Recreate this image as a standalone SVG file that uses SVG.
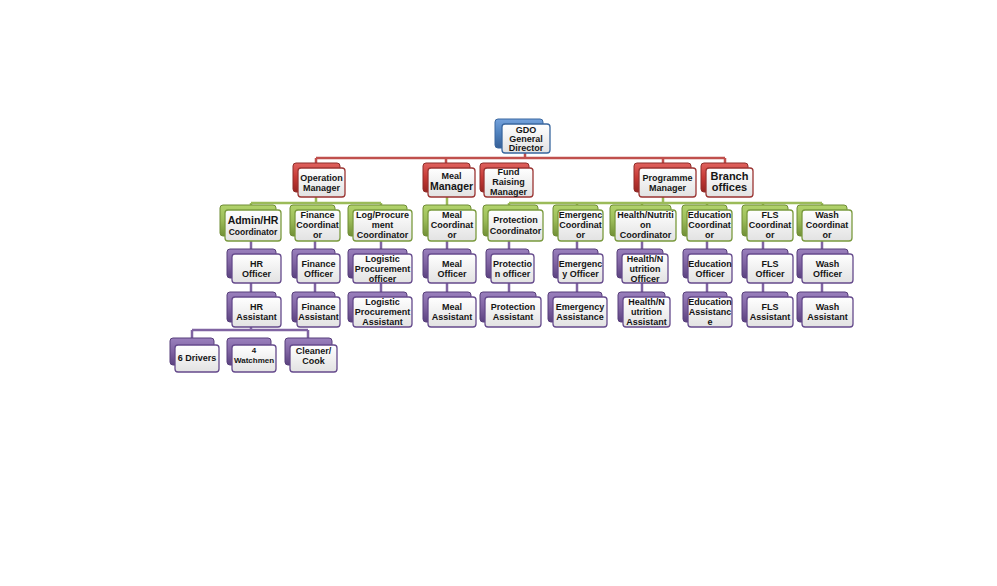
<svg xmlns="http://www.w3.org/2000/svg" width="997" height="586" viewBox="0 0 997 586">
<defs>
<linearGradient id="wf" x1="0" y1="0" x2="0" y2="1"><stop offset="0" stop-color="#ffffff"/><stop offset="1" stop-color="#e2e2e2"/></linearGradient>
<linearGradient id="gb" x1="0" y1="0" x2="0" y2="1"><stop offset="0" stop-color="#74a2dc"/><stop offset="0.5" stop-color="#4f81bd"/><stop offset="1" stop-color="#365f96"/></linearGradient>
<linearGradient id="gr" x1="0" y1="0" x2="0" y2="1"><stop offset="0" stop-color="#e0625e"/><stop offset="0.5" stop-color="#c63a36"/><stop offset="1" stop-color="#972522"/></linearGradient>
<linearGradient id="gg" x1="0" y1="0" x2="0" y2="1"><stop offset="0" stop-color="#b2d36c"/><stop offset="0.5" stop-color="#9bbb59"/><stop offset="1" stop-color="#718f36"/></linearGradient>
<linearGradient id="gp" x1="0" y1="0" x2="0" y2="1"><stop offset="0" stop-color="#9a80bd"/><stop offset="0.5" stop-color="#8064a2"/><stop offset="1" stop-color="#5b4280"/></linearGradient>
</defs>
<style>
.bk{stroke-width:1;rx:3px}
.fr{fill:url(#wf);stroke-width:1.3;rx:3px}
.b .bk{fill:url(#gb);stroke:#3a679f}.b .fr{stroke:#3a679f}
.r .bk{fill:url(#gr);stroke:#8e2d2a}.r .fr{stroke:#9b3533}
.g .bk{fill:url(#gg);stroke:#6f8c35}.g .fr{stroke:#7a9a3e}
.p .bk{fill:url(#gp);stroke:#573e7a}.p .fr{stroke:#654a8c}
text{font-family:"Liberation Sans",Arial,sans-serif;font-weight:bold;font-size:9px;fill:#151515;text-anchor:middle}
.big{font-size:10.5px}
.sm{font-size:8px}
.cr{stroke:#c0504d;stroke-width:2.5;fill:none}
.cg{stroke:#9bbb59;stroke-width:2.5;fill:none}
.cp{stroke:#8064a2;stroke-width:2.5;fill:none}
</style>
<rect width="997" height="586" fill="#ffffff"/>
<g id="connectors">
<path class="cr" d="M525 150V158M316 158H725M316 158V166M446 158V166M663 158V166M725 158V166"/>
<path class="cg" d="M316 195V203M251 203H381M251 203V208M381 203V208M447 195V208M663 195V203M509 203H822M509 203V208M577 203V208M642 203V208M707 203V208M763 203V208M822 203V208"/>
<path class="cp" d="M251 238V330M315 238V295M381 238V295M447 238V295M509 238V295M577 238V295M642 238V295M707 238V295M763 238V295M822 238V295M192 330H308M192 330V340M308 330V340"/>
</g>
<g id="gdo" class="b"><rect class="bk" x="495" y="119" width="48" height="29"/><rect class="fr" x="502" y="124" width="48" height="29"/><text x="526" y="132.7">GDO</text><text x="526" y="141.7">General</text><text x="526" y="150.7">Director</text></g>
<g id="operation-manager" class="r"><rect class="bk" x="293" y="163" width="47" height="29"/><rect class="fr" x="298" y="168" width="47" height="29"/><text x="321.5" y="180.7">Operation</text><text x="321.5" y="190.7">Manager</text></g>
<g id="meal-manager" class="r"><rect class="bk" x="423" y="163" width="47" height="29"/><rect class="fr" x="428" y="168" width="47" height="29"/><text x="451.5" y="178.7">Meal</text><text class="big" x="451.5" y="190.2">Manager</text></g>
<g id="fund-raising-manager" class="r"><rect class="bk" x="480" y="163" width="49" height="29"/><rect class="fr" x="484" y="168" width="49" height="29"/><text x="508.5" y="175.2">Fund</text><text x="508.5" y="185.2">Raising</text><text x="508.5" y="195.2">Manager</text></g>
<g id="programme-manager" class="r"><rect class="bk" x="634" y="163" width="57" height="29"/><rect class="fr" x="639" y="168" width="57" height="29"/><text x="667.5" y="180.7">Programme</text><text x="667.5" y="190.7">Manager</text></g>
<g id="branch-offices" class="r"><rect class="bk" x="701" y="163" width="47" height="29"/><rect class="fr" x="706" y="168" width="47" height="29"/><text style="font-size:11px" x="729.5" y="180.4">Branch</text><text style="font-size:11px" x="729.5" y="191.4">offices</text></g>
<g id="admin-hr-coordinator" class="g"><rect class="bk" x="220" y="205" width="56" height="31"/><rect class="fr" x="225" y="210" width="56" height="31"/><text class="big" x="253" y="224.2">Admin/HR</text><text style="font-size:8.5px" x="253" y="234.5">Coordinator</text></g>
<g id="finance-coordinator" class="g"><rect class="bk" x="290" y="205" width="45" height="31"/><rect class="fr" x="295" y="210" width="45" height="31"/><text x="317.5" y="218.2">Finance</text><text x="317.5" y="228.2">Coordinat</text><text x="317.5" y="238.2">or</text></g>
<g id="log-procurement-coordinator" class="g"><rect class="bk" x="348" y="205" width="59" height="31"/><rect class="fr" x="353" y="210" width="59" height="31"/><text x="382.5" y="218.2">Log/Procure</text><text x="382.5" y="228.2">ment</text><text x="382.5" y="238.2">Coordinator</text></g>
<g id="meal-coordinator" class="g"><rect class="bk" x="423" y="205" width="48" height="31"/><rect class="fr" x="428" y="210" width="48" height="31"/><text x="452" y="218.2">Meal</text><text x="452" y="228.2">Coordinat</text><text x="452" y="238.2">or</text></g>
<g id="protection-coordinator" class="g"><rect class="bk" x="483" y="205" width="55" height="31"/><rect class="fr" x="488" y="210" width="55" height="31"/><text x="515.5" y="223.2">Protection</text><text x="515.5" y="233.7">Coordinator</text></g>
<g id="emergency-coordinator" class="g"><rect class="bk" x="553" y="205" width="45" height="31"/><rect class="fr" x="558" y="210" width="45" height="31"/><text x="580.5" y="218.2">Emergenc</text><text x="580.5" y="228.2">Coordinat</text><text x="580.5" y="238.2">or</text></g>
<g id="health-nutrition-coordinator" class="g"><rect class="bk" x="610" y="205" width="61" height="31"/><rect class="fr" x="615" y="210" width="61" height="31"/><text x="645.5" y="218.2">Health/Nutriti</text><text x="645.5" y="228.2">on</text><text x="645.5" y="238.2">Coordinator</text></g>
<g id="education-coordinator" class="g"><rect class="bk" x="682" y="205" width="45" height="31"/><rect class="fr" x="687" y="210" width="45" height="31"/><text x="709.5" y="218.2">Education</text><text x="709.5" y="228.2">Coordinat</text><text x="709.5" y="238.2">or</text></g>
<g id="fls-coordinator" class="g"><rect class="bk" x="742" y="205" width="46" height="31"/><rect class="fr" x="747" y="210" width="46" height="31"/><text x="770" y="218.2">FLS</text><text x="770" y="228.2">Coordinat</text><text x="770" y="238.2">or</text></g>
<g id="wash-coordinator" class="g"><rect class="bk" x="797" y="205" width="50" height="31"/><rect class="fr" x="802" y="210" width="50" height="31"/><text x="827" y="218.2">Wash</text><text x="827" y="228.2">Coordinat</text><text x="827" y="238.2">or</text></g>
<g id="hr-officer" class="p"><rect class="bk" x="227" y="249" width="49" height="29"/><rect class="fr" x="232" y="254" width="49" height="29"/><text x="256.5" y="266.7">HR</text><text x="256.5" y="276.7">Officer</text></g>
<g id="finance-officer" class="p"><rect class="bk" x="292" y="249" width="43" height="29"/><rect class="fr" x="297" y="254" width="43" height="29"/><text x="318.5" y="266.7">Finance</text><text x="318.5" y="276.7">Officer</text></g>
<g id="logistic-procurement-officer" class="p"><rect class="bk" x="348" y="249" width="59" height="29"/><rect class="fr" x="353" y="254" width="59" height="29"/><text x="382.5" y="262.2">Logistic</text><text x="382.5" y="272.2">Procurement</text><text x="382.5" y="282.2">officer</text></g>
<g id="meal-officer" class="p"><rect class="bk" x="423" y="249" width="48" height="29"/><rect class="fr" x="428" y="254" width="48" height="29"/><text x="452" y="266.7">Meal</text><text x="452" y="276.7">Officer</text></g>
<g id="protection-officer" class="p"><rect class="bk" x="486" y="249" width="43" height="29"/><rect class="fr" x="491" y="254" width="43" height="29"/><text x="512.5" y="266.7">Protectio</text><text x="512.5" y="276.7">n officer</text></g>
<g id="emergency-officer" class="p"><rect class="bk" x="553" y="249" width="45" height="29"/><rect class="fr" x="558" y="254" width="45" height="29"/><text x="580.5" y="266.7">Emergenc</text><text x="580.5" y="276.7">y Officer</text></g>
<g id="health-nutrition-officer" class="p"><rect class="bk" x="617" y="249" width="46" height="29"/><rect class="fr" x="622" y="254" width="46" height="29"/><text x="645" y="262.2">Health/N</text><text x="645" y="272.2">utrition</text><text x="645" y="282.2">Officer</text></g>
<g id="education-officer" class="p"><rect class="bk" x="683" y="249" width="44" height="29"/><rect class="fr" x="688" y="254" width="44" height="29"/><text x="710" y="266.7">Education</text><text x="710" y="276.7">Officer</text></g>
<g id="fls-officer" class="p"><rect class="bk" x="742" y="249" width="46" height="29"/><rect class="fr" x="747" y="254" width="46" height="29"/><text x="770" y="266.7">FLS</text><text x="770" y="276.7">Officer</text></g>
<g id="wash-officer" class="p"><rect class="bk" x="797" y="249" width="51" height="29"/><rect class="fr" x="802" y="254" width="51" height="29"/><text x="827.5" y="266.7">Wash</text><text x="827.5" y="276.7">Officer</text></g>
<g id="hr-assistant" class="p"><rect class="bk" x="227" y="292" width="49" height="30"/><rect class="fr" x="232" y="297" width="49" height="30"/><text x="256.5" y="310.2">HR</text><text x="256.5" y="320.2">Assistant</text></g>
<g id="finance-assistant" class="p"><rect class="bk" x="292" y="292" width="43" height="30"/><rect class="fr" x="297" y="297" width="43" height="30"/><text x="318.5" y="310.2">Finance</text><text x="318.5" y="320.2">Assistant</text></g>
<g id="logistic-procurement-assistant" class="p"><rect class="bk" x="348" y="292" width="59" height="30"/><rect class="fr" x="353" y="297" width="59" height="30"/><text x="382.5" y="305.2">Logistic</text><text x="382.5" y="315.2">Procurement</text><text x="382.5" y="325.2">Assistant</text></g>
<g id="meal-assistant" class="p"><rect class="bk" x="423" y="292" width="48" height="30"/><rect class="fr" x="428" y="297" width="48" height="30"/><text x="452" y="310.2">Meal</text><text x="452" y="320.2">Assistant</text></g>
<g id="protection-assistant" class="p"><rect class="bk" x="480" y="292" width="56" height="30"/><rect class="fr" x="485" y="297" width="56" height="30"/><text x="513" y="310.2">Protection</text><text x="513" y="320.2">Assistant</text></g>
<g id="emergency-assistance" class="p"><rect class="bk" x="548" y="292" width="54" height="30"/><rect class="fr" x="553" y="297" width="54" height="30"/><text x="580" y="310.2">Emergency</text><text x="580" y="320.2">Assistance</text></g>
<g id="health-nutrition-assistant" class="p"><rect class="bk" x="618" y="292" width="47" height="30"/><rect class="fr" x="623" y="297" width="47" height="30"/><text x="646.5" y="305.2">Health/N</text><text x="646.5" y="315.2">utrition</text><text x="646.5" y="325.2">Assistant</text></g>
<g id="education-assistance" class="p"><rect class="bk" x="683" y="292" width="44" height="30"/><rect class="fr" x="688" y="297" width="44" height="30"/><text x="710" y="305.2">Education</text><text x="710" y="315.2">Assistanc</text><text x="710" y="325.2">e</text></g>
<g id="fls-assistant" class="p"><rect class="bk" x="742" y="292" width="46" height="30"/><rect class="fr" x="747" y="297" width="46" height="30"/><text x="770" y="310.2">FLS</text><text x="770" y="320.2">Assistant</text></g>
<g id="wash-assistant" class="p"><rect class="bk" x="797" y="292" width="51" height="30"/><rect class="fr" x="802" y="297" width="51" height="30"/><text x="827.5" y="310.2">Wash</text><text x="827.5" y="320.2">Assistant</text></g>
<g id="drivers" class="p"><rect class="bk" x="170" y="338" width="44" height="27"/><rect class="fr" x="175" y="345" width="44" height="27"/><text x="197" y="361.2">6 Drivers</text></g>
<g id="watchmen" class="p"><rect class="bk" x="227" y="338" width="44" height="27"/><rect class="fr" x="232" y="345" width="44" height="27"/><text class="sm" x="254" y="353.3">4</text><text class="sm" x="254" y="362.8">Watchmen</text></g>
<g id="cleaner-cook" class="p"><rect class="bk" x="285" y="338" width="47" height="27"/><rect class="fr" x="290" y="345" width="47" height="27"/><text x="313.5" y="353.7">Cleaner/</text><text x="313.5" y="363.7">Cook</text></g>
</svg>
